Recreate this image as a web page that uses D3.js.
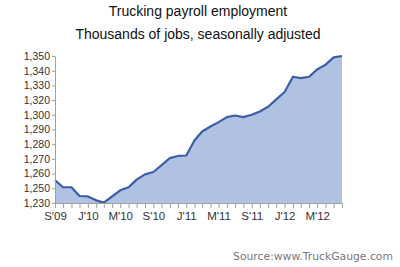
<!DOCTYPE html>
<html>
<head>
<meta charset="utf-8">
<script src="https://cdn.jsdelivr.net/npm/d3@7"></script>
<style>
  html, body { margin: 0; padding: 0; background: #fff; }
  svg { display: block; font-family: "Liberation Sans", Arial, sans-serif; }
  .axis path, .axis line { stroke: #a0a0a0; }
  .axis text { fill: #333; }
</style>
</head>
<body>
<svg id="chart" width="400" height="267"></svg>
<script>
// trucking payroll employment, monthly Sep 2009 .. Aug 2012 (thousands, SA)
const startMonth = new Date(2009, 8, 1);
const payroll = [
  1255.5, 1250.7, 1250.7, 1239.5, 1239, 1233.6, 1230.5, 1239, 1247.3, 1250.7,
  1255.9, 1259.5, 1261.1, 1265.7, 1270.5, 1272, 1272.3, 1282.7, 1288.6, 1292,
  1295, 1298.4, 1299.5, 1298.4, 1300, 1304.5, 1310.9, 1320.5, 1325.5, 1335.9,
  1335, 1335.9, 1340.9, 1344.1, 1349.1, 1350
];
// y labels as printed (evenly spaced, 1,240 and 1,310 skipped)
const yTicks = [1230, 1250, 1260, 1270, 1280, 1290, 1300, 1320, 1330, 1340, 1350];
const xLabelEvery = 4;
const monthInitials = ["J", "F", "M", "A", "M", "J", "J", "A", "S", "O", "N", "D"];

const titleLines = ["Trucking payroll employment", "Thousands of jobs, seasonally adjusted"];
const sourceText = "Source:www.TruckGauge.com";

const margins = { top: 56, right: 58, bottom: 64, left: 55 };
const svg = d3.select("#chart");
const W = +svg.attr("width"), H = +svg.attr("height");
const w = W - margins.left - margins.right;
const h = H - margins.top - margins.bottom;

const data = payroll.map((v, i) => ({ date: d3.timeMonth.offset(startMonth, i), v }));

const x = d3.scaleTime()
  .domain(d3.extent(data, d => d.date))
  .range([0, w]);

// polylinear so each printed label sits on an even step
const y = d3.scaleLinear()
  .domain(yTicks)
  .range(yTicks.map((d, i) => h - i * h / (yTicks.length - 1)));

const g = svg.append("g").attr("transform", `translate(${margins.left},${margins.top})`);

const area = d3.area()
  .x(d => x(d.date))
  .y0(h)
  .y1(d => y(d.v));

const line = d3.line()
  .x(d => x(d.date))
  .y(d => y(d.v));

g.append("path")
  .datum(data)
  .attr("fill", "#b0c1e2")
  .attr("d", area);

g.append("path")
  .datum(data)
  .attr("fill", "none")
  .attr("stroke", "#3b5ea8")
  .attr("stroke-width", 2.2)
  .attr("stroke-linejoin", "round")
  .attr("d", line);

const monthLabel = d => `${monthInitials[d.getMonth()]}'${String(d.getFullYear()).slice(2)}`;

g.append("g")
  .attr("class", "axis")
  .attr("transform", `translate(0,${h})`)
  .call(d3.axisBottom(x)
    .tickValues(data.map(d => d.date))
    .tickSize(5)
    .tickSizeOuter(0)
    .tickPadding(4)
    .tickFormat(d => d3.timeMonth.count(startMonth, d) % xLabelEvery === 0 ? monthLabel(d) : ""))
  .call(s => s.selectAll("text").style("font-size", "11.5px"));

g.append("g")
  .attr("class", "axis")
  .call(d3.axisLeft(y)
    .tickValues(yTicks)
    .tickSize(3)
    .tickSizeOuter(0)
    .tickPadding(2)
    .tickFormat(d3.format(",")))
  .call(s => s.selectAll("text").style("font-size", "10.5px"));

svg.selectAll("text.title")
  .data(titleLines)
  .join("text")
  .attr("class", "title")
  .attr("x", 198)
  .attr("y", (d, i) => 16 + i * 23)
  .attr("text-anchor", "middle")
  .attr("font-size", 14)
  .attr("fill", "#111")
  .text(d => d);

svg.append("text")
  .attr("x", 393)
  .attr("y", 260)
  .attr("text-anchor", "end")
  .attr("font-family", "DejaVu Sans, sans-serif")
  .attr("font-size", 10.8)
  .attr("fill", "#777")
  .text(sourceText);
</script>
</body>
</html>
